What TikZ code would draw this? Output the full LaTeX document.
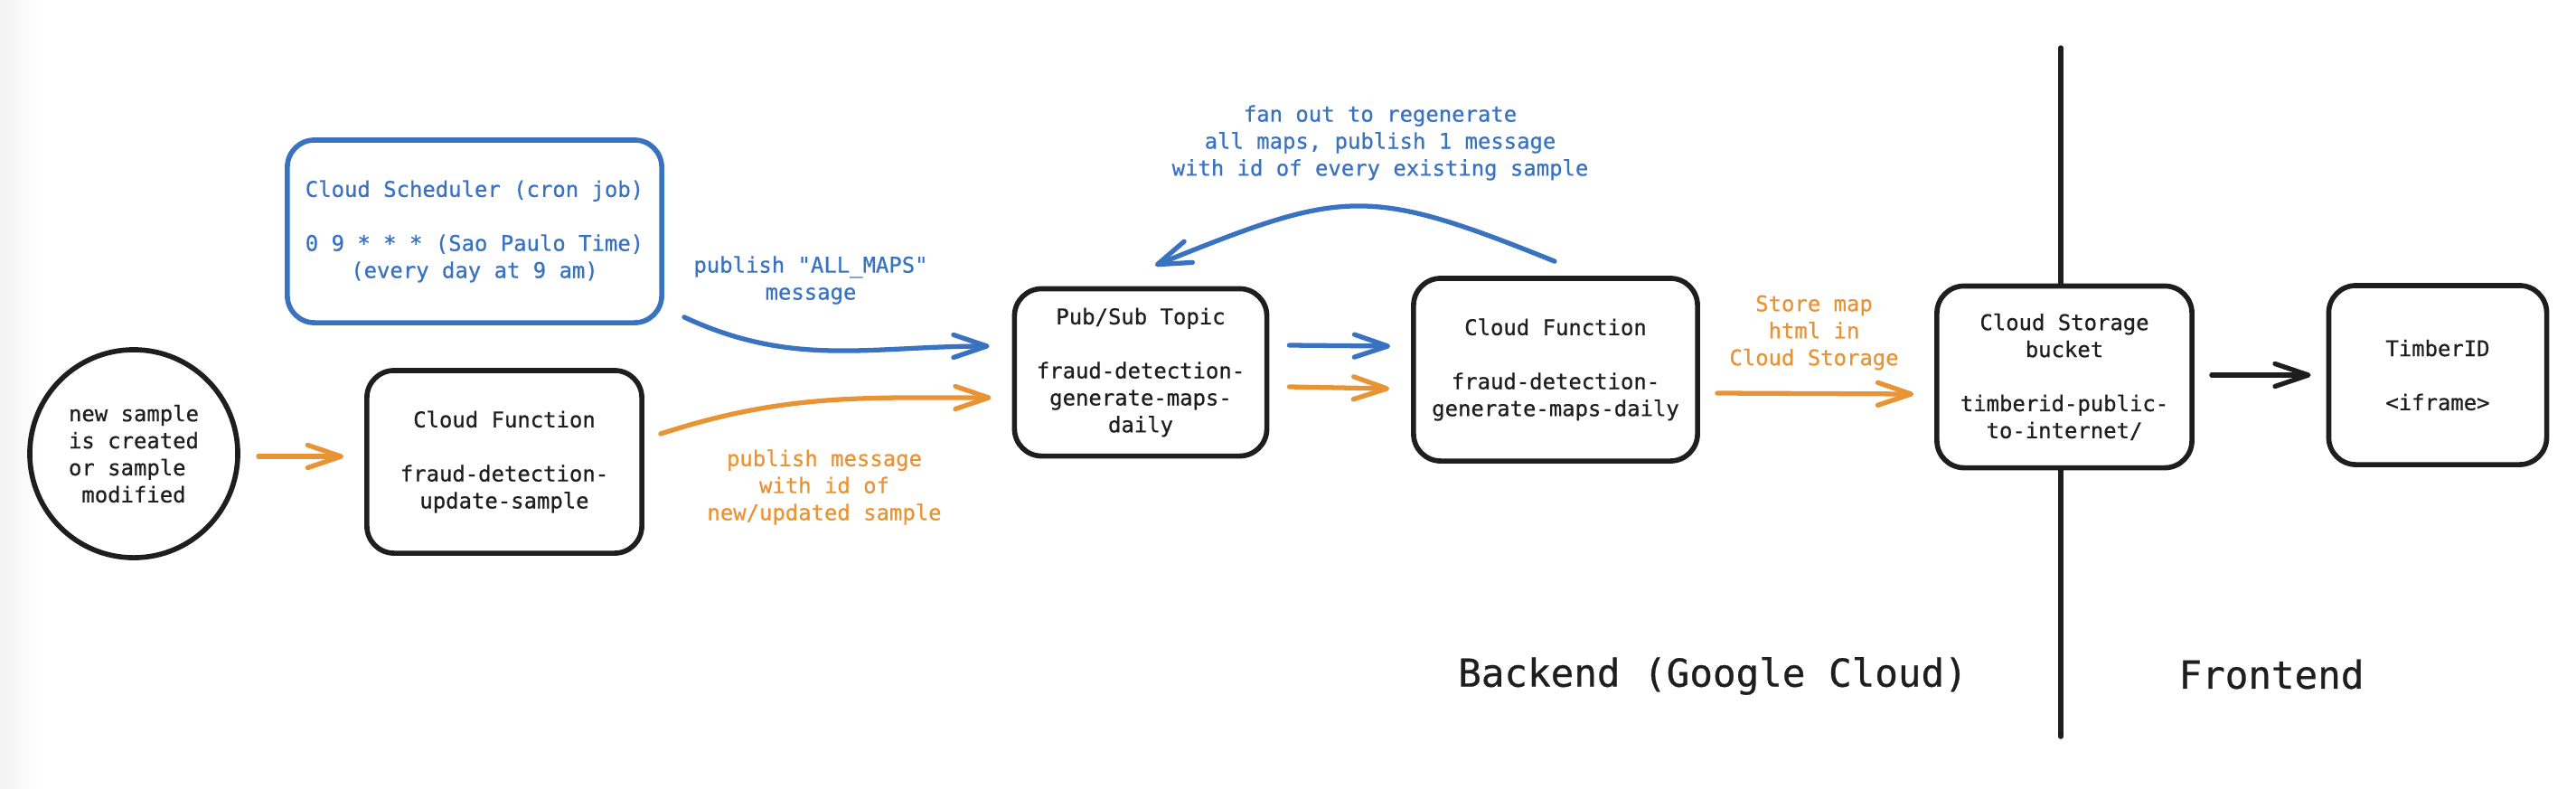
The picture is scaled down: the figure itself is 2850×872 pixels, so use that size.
\documentclass[tikz,border=0pt]{standalone}
\usepackage{fontspec}
\setmonofont{DejaVu Sans Mono}[FakeBold=0.6]
\usepackage{tikz}
\usetikzlibrary{arrows.meta, positioning, calc}
\usepackage{xcolor}
\definecolor{gcblue}{RGB}{57, 114, 193}
\definecolor{gcorange}{RGB}{232, 147, 52}
\definecolor{inkblack}{RGB}{30, 30, 30}

\begin{document}
\begin{tikzpicture}[x=0.01cm, y=-0.01cm,
    every node/.style={font=\ttfamily\fontsize{6.8}{8.5}\selectfont, text=inkblack, align=center},
    gcbox/.style={draw=inkblack, line width=1.6pt, rounded corners=0.3cm, fill=white},
    flow/.style={line width=1.5pt, line cap=round, -{Straight Barb[length=0.37cm, width=0.25cm, round]}},
    bigtag/.style={font=\ttfamily\fontsize{12.1}{14}\selectfont}]
    \useasboundingbox (0,0) rectangle (2850,872);
    \shade[left color=black!5, right color=white] (0,0) rectangle (45,872);

    % backend / frontend divider
    \draw[inkblack, line width=1.6pt, line cap=round] (2280,53) -- (2280,815);

    \node[circle, draw=inkblack, line width=1.6pt, minimum size=2.3cm, align=left] (ev) at (148,502)
        {new sample\\is created\\or sample\\\hphantom{m}modified};
    \node[gcbox, draw=gcblue, text=gcblue, minimum width=4.14cm, minimum height=2.02cm] (cron) at (525,256)
        {Cloud Scheduler (cron job)\\[8.5pt]0 9 * * * (Sao Paulo Time)\\(every day at 9 am)};
    \node[gcbox, minimum width=3.04cm, minimum height=2.02cm] (cf1) at (558,511)
        {Cloud Function\\[8.5pt]fraud-detection-\\update-sample};
    \node[gcbox, minimum width=2.79cm, minimum height=1.85cm] (pubsub) at (1262,412)
        {Pub/Sub Topic\\[8.5pt]fraud-detection-\\generate-maps-\\daily};
    \node[gcbox, minimum width=3.14cm, minimum height=2.02cm] (cf2) at (1721,409)
        {Cloud Function\\[8.5pt]fraud-detection-\\generate-maps-daily};
    \node[gcbox, minimum width=2.82cm, minimum height=2.01cm] (storage) at (2284,417)
        {Cloud Storage\\bucket\\[8.5pt]timberid-public-\\to-internet/};
    \node[gcbox, minimum width=2.41cm, minimum height=1.98cm] (timber) at (2697,415)
        {TimberID\\[8.5pt]<iframe>};

    % labels
    \node[text=gcblue] (allmsg) at (897,310) {publish "ALL\_MAPS"\\message};
    \node[text=gcorange] (updmsg) at (912,539) {publish message\\with id of\\new/updated sample};
    \node[text=gcblue] (fanmsg) at (1527,158) {fan out to regenerate\\all maps, publish 1 message\\with id of every existing sample};
    \node[text=gcorange] (storemsg) at (2007,368) {Store map\\html in\\Cloud Storage};
    \node[bigtag] (backend) at (1895,748) {Backend (Google Cloud)};
    \node[bigtag] (frontend) at (2513,746) {Frontend};

    % flows
    \draw[flow, gcorange] ($(ev.east)+(20,3)$) -- ($(cf1.west)+(-23,-6)$);
    \draw[flow, gcblue] ($(cron.south east)+(22,-9)$) to[out=-25, in=180] ($(pubsub.west)+(-25,-29)$);
    \draw[flow, gcorange] ($(cf1.east)+(18,-31)$) to[out=18, in=180] ($(pubsub.west)+(-23,28)$);
    \draw[flow, gcblue] ($(cf2.north)+(-1,-16)$) to[out=158, in=22, looseness=1.3] ($(pubsub.north)+(16,-23)$);
    \draw[flow, gcblue] ($(pubsub.east)+(22,-30)$) -- ($(cf2.west)+(-23,-26)$);
    \draw[flow, gcorange] ($(pubsub.east)+(22,16)$) -- ($(cf2.west)+(-24,21)$);
    \draw[flow, gcorange] ($(cf2.east)+(19,26)$) -- ($(storage.west)+(-23,19)$);
    \draw[flow, inkblack] ($(storage.east)+(19,-2)$) -- ($(timber.west)+(-17,0)$);
\end{tikzpicture}
\end{document}
